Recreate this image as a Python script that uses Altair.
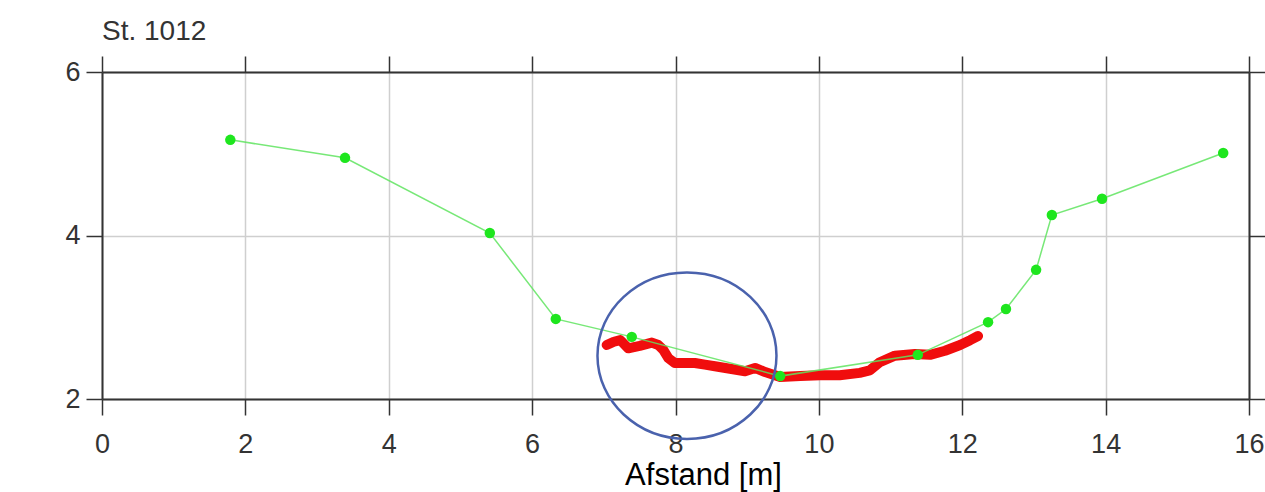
import altair as alt
import pandas as pd

# Green survey points (distance [m], level)
green_x = [1.79, 3.39, 5.41, 6.33, 7.39, 9.46, 11.38, 12.36, 12.61, 13.03, 13.25, 13.95, 15.64]
green_y = [5.17, 4.95, 4.03, 2.98, 2.76, 2.28, 2.54, 2.94, 3.10, 3.58, 4.25, 4.45, 5.01]

# Red dense measurement series
red_x = [7.04, 7.14, 7.23, 7.34, 7.50, 7.67, 7.76, 7.83, 7.90, 7.99, 8.13, 8.27, 8.41, 8.55,
         8.76, 8.97, 9.11, 9.25, 9.46, 9.74, 10.02, 10.29, 10.57, 10.71, 10.85, 11.06, 11.34,
         11.55, 11.76, 11.97, 12.11, 12.22]
red_y = [2.66, 2.70, 2.72, 2.62, 2.65, 2.69, 2.66, 2.60, 2.50, 2.44, 2.44, 2.44, 2.42, 2.40,
         2.37, 2.34, 2.38, 2.33, 2.27, 2.28, 2.29, 2.29, 2.32, 2.35, 2.45, 2.53, 2.55,
         2.54, 2.59, 2.66, 2.72, 2.77]

# Highlight ellipse centre
circle_x = [8.16]
circle_y = [2.53]

x_ticks = [0, 2, 4, 6, 8, 10, 12, 14, 16]
y_ticks = [2, 4, 6]

green = pd.DataFrame({"x": green_x, "y": green_y})
red = pd.DataFrame({"x": red_x, "y": red_y})
circ = pd.DataFrame({"x": circle_x, "y": circle_y})

FONT = "Liberation Sans"
xs = alt.Scale(domain=[0, 16], nice=False, zero=False)
ys = alt.Scale(domain=[2, 6], nice=False, zero=False)

common = dict(domainColor="#333333", domainWidth=2, tickColor="#333333", tickWidth=1.5,
              tickSize=16, labelFlush=False, labelFont=FONT, labelFontSize=27,
              labelColor="#333333", gridColor="#cfcfcf", gridWidth=1.5)

x_bottom = alt.Axis(orient="bottom", values=x_ticks, grid=True, labelPadding=16,
                    title="Afstand [m]", titleFont=FONT, titleFontSize=31,
                    titleFontWeight="normal", titleColor="#000000", titleX=601, titleY=85,
                    titleBaseline="alphabetic", titleAlign="center", **common)
y_left = alt.Axis(orient="left", values=y_ticks, grid=True, labelPadding=6, title="",
                  **common)
x_top = alt.Axis(orient="top", values=x_ticks, grid=False, labels=False, title="", **common)
y_right = alt.Axis(orient="right", values=y_ticks, grid=False, labels=False, title="", **common)

red_line = alt.Chart(red).mark_line(color="#f00d0d", strokeWidth=10, strokeCap="round",
                                    strokeJoin="round").encode(
    x=alt.X("x:Q", scale=xs, axis=x_bottom),
    y=alt.Y("y:Q", scale=ys, axis=y_left),
    order="x:Q",
)

green_line = alt.Chart(green).mark_line(color="#5fe45f", strokeWidth=1.5, opacity=0.85).encode(
    x=alt.X("x:Q", scale=xs, axis=None),
    y=alt.Y("y:Q", scale=ys, axis=None),
    order="x:Q",
)

green_pts = alt.Chart(green).mark_point(shape="circle", filled=True, size=110, opacity=1,
                                        color="#1ee61e").encode(
    x=alt.X("x:Q", scale=xs, axis=x_top),
    y=alt.Y("y:Q", scale=ys, axis=y_right),
)

ellipse = "M-1,0 A1,0.93 0 1,1 1,0 A1,0.93 0 1,1 -1,0 Z"
circle = alt.Chart(circ).mark_point(shape=ellipse, filled=False, size=32041, stroke="#4a62ad",
                                    strokeWidth=2.5, opacity=1, clip=False).encode(
    x=alt.X("x:Q", scale=xs, axis=None),
    y=alt.Y("y:Q", scale=ys, axis=None),
)

chart = alt.layer(red_line, green_line, green_pts, circle).resolve_axis(
    x="independent", y="independent"
).properties(
    width=1147, height=327,
    autosize="none",
    padding={"left": 102, "top": 72, "right": 16, "bottom": 93},
    title=alt.TitleParams("St. 1012", anchor="start", frame="group", font=FONT, fontSize=28,
                          fontWeight="normal", color="#333333", baseline="alphabetic",
                          offset=8, dy=21),
).configure_view(stroke="#333333", strokeWidth=2).configure(background="white")

chart.save("out.html", embed_options={"renderer": "svg", "actions": False})
